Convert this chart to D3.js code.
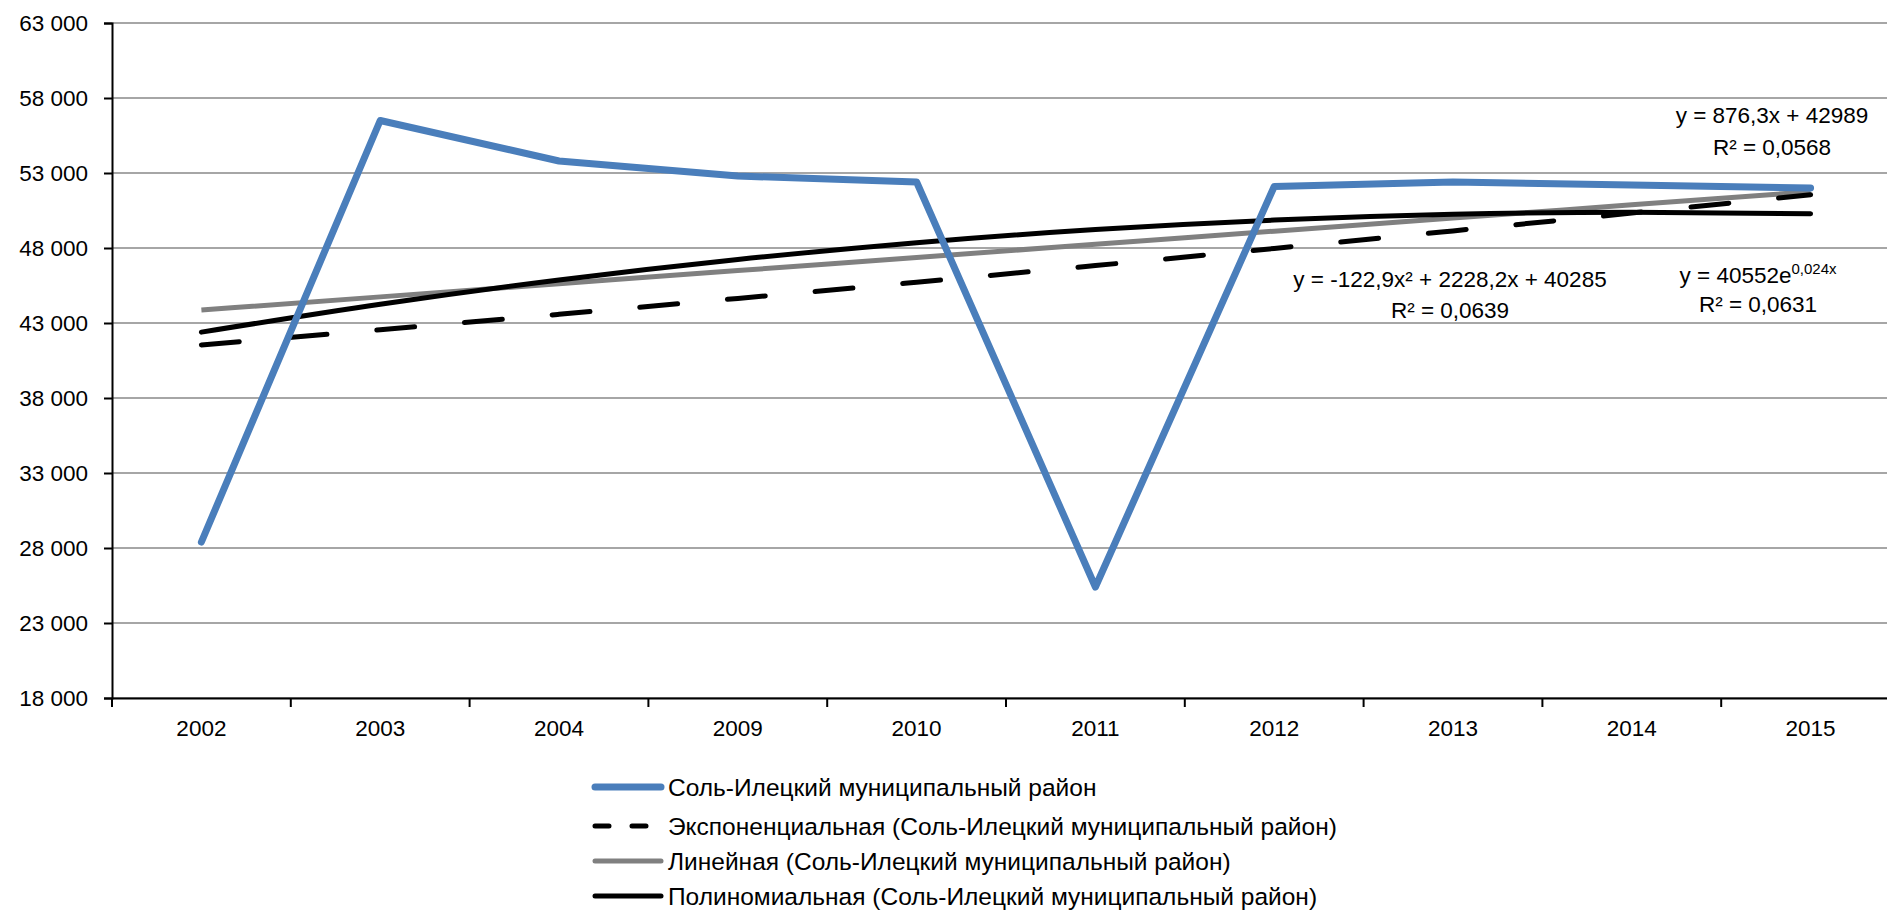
<!DOCTYPE html>
<html><head><meta charset="utf-8">
<script src="https://cdn.jsdelivr.net/npm/d3@7"></script>
<style>
html,body{margin:0;padding:0;background:#fff;overflow:hidden;}
text{font-family:"Liberation Sans",Arial,sans-serif;fill:#000;}
</style></head>
<body>
<svg id="chart" width="1887" height="914"></svg>
<script>
const categories = ["2002","2003","2004","2009","2010","2011","2012","2013","2014","2015"];
const seriesValues = [28400,56500,53800,52800,52400,25400,52100,52400,52200,52000];
// trendline values read at each category
const expTrend = [41540,42550,43580,44640,45720,46830,47970,49140,50330,51550];
const linTrend = [43865,44742,45618,46494,47371,48247,49123,49999,50876,51752];
const polyTrend = [42390,44250,45864,47231,48354,49230,49860,50245,50384,50277];
const yTicks = [18000,23000,28000,33000,38000,43000,48000,53000,58000,63000];
const legendLabels = ["Соль-Илецкий муниципальный район","Экспоненциальная (Соль-Илецкий муниципальный район)","Линейная (Соль-Илецкий муниципальный район)","Полиномиальная (Соль-Илецкий муниципальный район)"];
const eqLabels = [
  {lines:["y = 876,3x + 42989","R² = 0,0568"]},
  {lines:["y = -122,9x² + 2228,2x + 40285","R² = 0,0639"]},
  {lines:["y = 40552e^0,024x","R² = 0,0631"]}
];

(function(){
const svg = d3.select("#chart");
const mLeft = 112, mRight = 1900, mTop = 23, mBottom = 698;
const x = d3.scaleBand().domain(categories).range([mLeft, mRight]);
const y = d3.scaleLinear().domain([18000, 63000]).range([mBottom, mTop]);
const cx = d => x(d) + x.bandwidth()/2;
const FONT = '"Liberation Sans",Arial,sans-serif';

// gridlines
svg.append("g").selectAll("line").data(yTicks).join("line")
  .attr("x1", mLeft).attr("x2", 1887).attr("y1", d=>y(d)).attr("y2", d=>y(d))
  .attr("stroke", "#a6a6a6").attr("stroke-width", 2);

// y axis
const yAxis = svg.append("g").attr("transform", `translate(${mLeft},0)`)
  .call(d3.axisLeft(y).tickValues(yTicks).tickSize(8).tickPadding(16)
    .tickFormat(d => d3.format(",")(d).replace(/,/g, " ")));
yAxis.select(".domain").attr("stroke","#000").attr("stroke-width",2);
yAxis.selectAll(".tick line").attr("stroke","#000").attr("stroke-width",2);
yAxis.selectAll("text").attr("font-size", 22.5).style("font-family",FONT);

// x axis
const xAxis = svg.append("g").attr("transform", `translate(0,${mBottom})`)
  .call(d3.axisBottom(x).tickSize(0).tickPadding(22));
xAxis.select(".domain").attr("stroke","#000").attr("stroke-width",2);
xAxis.selectAll("text").attr("font-size", 22.5).style("font-family",FONT);
// category separators
svg.append("g").selectAll("line").data(categories).join("line")
  .attr("x1", d=>x(d)).attr("x2", d=>x(d)).attr("y1", mBottom).attr("y2", mBottom+9)
  .attr("stroke","#000").attr("stroke-width",2);

// trendlines
const smooth = d3.line().x((d,i)=>cx(categories[i])).y(d=>y(d)).curve(d3.curveMonotoneX);
svg.append("path").datum(linTrend).attr("d", smooth)
  .attr("fill","none").attr("stroke","#808080").attr("stroke-width",5);
svg.append("path").datum(polyTrend).attr("d", smooth)
  .attr("fill","none").attr("stroke","#000").attr("stroke-width",5).attr("stroke-linecap","round");
svg.append("path").datum(expTrend).attr("d", smooth)
  .attr("fill","none").attr("stroke","#000").attr("stroke-width",5)
  .attr("stroke-dasharray","38,50").attr("stroke-linecap","round");

// main series
const line = d3.line().x((d,i)=>cx(categories[i])).y(d=>y(d));
svg.append("path").datum(seriesValues).attr("d", line)
  .attr("fill","none").attr("stroke","#4a7ebb").attr("stroke-width",7)
  .attr("stroke-linejoin","round").attr("stroke-linecap","round");

// equation labels
const eqPos = [[1772,123,155],[1450,287,318],[1758,283,312]];
eqLabels.forEach((e,i)=>{
  const [ex, y1, y2] = eqPos[i];
  const t1 = svg.append("text").attr("x", ex).attr("y", y1).attr("text-anchor","middle").attr("font-size",22.5);
  if (e.lines[0].includes("^")) {
    const [a,b] = e.lines[0].split("^");
    t1.append("tspan").text(a);
    t1.append("tspan").text(b).attr("font-size",15).attr("dy",-9);
  } else t1.text(e.lines[0]);
  svg.append("text").attr("x", ex).attr("y", y2).attr("text-anchor","middle").attr("font-size",22.5).text(e.lines[1]);
});

// legend
const legY = [787, 826, 861, 896];
const legStyles = [
  {stroke:"#4a7ebb", w:7, dash:null, x1:595, x2:661},
  {stroke:"#000", w:5, dash:"14,23", x1:595, x2:647},
  {stroke:"#808080", w:5, dash:null, x1:595, x2:661},
  {stroke:"#000", w:5, dash:null, x1:595, x2:661}
];
const leg = svg.append("g");
legendLabels.forEach((lab,i)=>{
  const s = legStyles[i];
  leg.append("line").attr("x1", s.x1).attr("x2", s.x2).attr("y1", legY[i]).attr("y2", legY[i])
    .attr("stroke", s.stroke).attr("stroke-width", s.w).attr("stroke-linecap","round")
    .attr("stroke-dasharray", s.dash);
  leg.append("text").attr("x", 668).attr("y", legY[i]).attr("dy","0.35em")
    .attr("font-size", 24.5).text(lab);
});
})();
</script>
</body></html>
